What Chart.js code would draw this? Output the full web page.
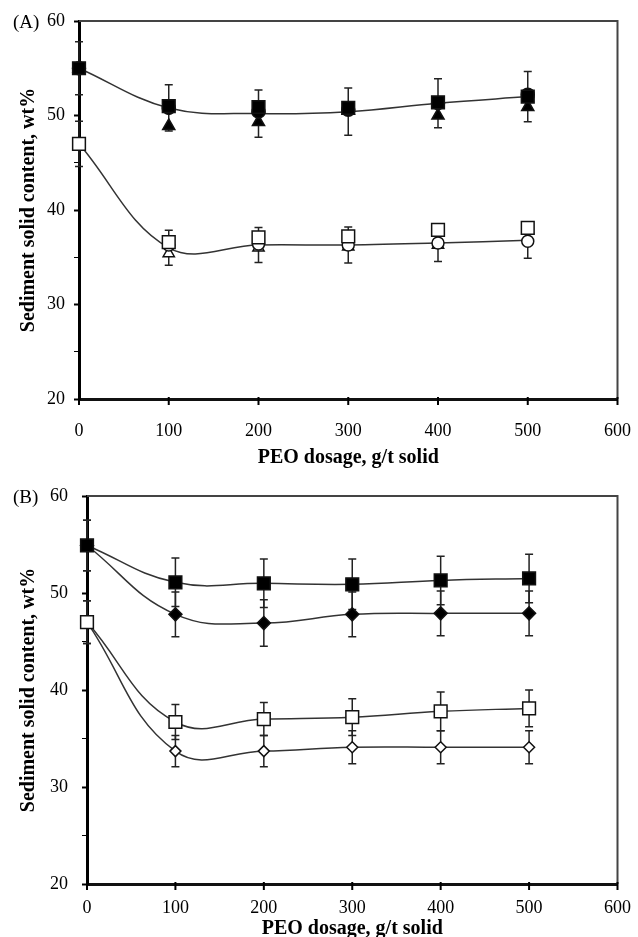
<!DOCTYPE html>
<html><head><meta charset="utf-8">
<script src="https://cdn.jsdelivr.net/npm/chart.js@4"></script>
<style>
html,body{margin:0;padding:0;background:#fff;width:638px;height:937px;overflow:hidden;position:relative}
#wa{position:absolute;left:0;top:0;width:638px;height:480px}
#wb{position:absolute;left:0;top:460px;width:638px;height:490px}
</style></head><body>
<div id="wa"><canvas id="ca"></canvas></div>
<div id="wb"><canvas id="cb"></canvas></div>
<script>
// ---- data ----
const dosage = [0, 100, 200, 300, 400, 500];
const xTitle = 'PEO dosage, g/t solid';
const yTitle = 'Sediment solid content, wt%';

// Panel A
const aFilledSquare   = [55.0, 51.0, 50.9, 50.8, 51.4, 52.0];
const aFilledCircle   = [55.0, 50.8, 50.4, 50.6, 51.3, 52.2];
const aFilledTriangle = [55.0, 48.9, 49.3, 50.5, 50.0, 50.9];
const aFilledMean     = [55.0, 50.8, 50.2, 50.4, 51.3, 52.0];
const aFilledErr      = [2.8, 2.45, 2.5, 2.5, 2.6, 2.65];
const aOpenSquare     = [47.0, 36.6, 37.1, 37.2, 37.9, 38.1];
const aOpenCircle     = [47.0, 36.3, 36.4, 36.3, 36.5, 36.7];
const aOpenTriangle   = [47.0, 35.4, 36.0, 36.1, 36.3, 37.9];
const aOpenMean       = [47.0, 36.0, 36.3, 36.3, 36.5, 36.8];
const aOpenErr        = [2.4, 1.85, 1.85, 1.9, 1.95, 1.9];

// Panel B
const bFilledSquare   = [54.9, 51.1, 51.0, 50.9, 51.3, 51.5];
const bFilledSquareErr= [2.6, 2.5, 2.5, 2.6, 2.5, 2.5];
const bFilledDiamond  = [54.9, 47.8, 46.9, 47.8, 47.9, 47.9];
const bFilledDiamondErr=[2.6, 2.3, 2.4, 2.3, 2.3, 2.3];
const bOpenSquare     = [47.0, 36.7, 37.0, 37.2, 37.8, 38.1];
const bOpenSquareErr  = [2.2, 1.8, 1.7, 1.9, 2.0, 1.9];
const bOpenDiamond    = [47.0, 33.7, 33.7, 34.1, 34.1, 34.1];
const bOpenDiamondErr = [2.2, 1.6, 1.6, 1.7, 1.7, 1.7];

const pts = arr => dosage.map((x, i) => ({x, y: arr[i]}));
const SERIF = "'Liberation Serif', 'Times New Roman', serif";

const errorBars = {
  id: 'errorBars',
  beforeDatasetsDraw(chart) {
    const {ctx, scales: {x, y}} = chart;
    chart.data.datasets.forEach(ds => {
      if (!ds.err) return;
      ctx.save();
      ctx.strokeStyle = '#222';
      ctx.lineWidth = 1.5;
      ds.data.forEach((p, j) => {
        const e = ds.err[j];
        const px = x.getPixelForValue(p.x);
        const t = y.getPixelForValue(p.y + e), b = y.getPixelForValue(p.y - e);
        ctx.beginPath();
        ctx.moveTo(px, t); ctx.lineTo(px, b);
        ctx.moveTo(px - 4, t); ctx.lineTo(px + 4, t);
        ctx.moveTo(px - 4, b); ctx.lineTo(px + 4, b);
        ctx.stroke();
      });
      ctx.restore();
    });
  }
};

const frame = {
  id: 'frame',
  afterDraw(chart, args, opts) {
    const {ctx, chartArea: a, scales: {x}} = chart;
    ctx.save();
    ctx.strokeStyle = '#444';
    ctx.lineWidth = 2;
    ctx.beginPath();
    ctx.moveTo(a.left, a.top); ctx.lineTo(a.right, a.top); ctx.lineTo(a.right, a.bottom);
    ctx.stroke();
    // x-axis tick marks
    ctx.strokeStyle = '#000';
    ctx.lineWidth = 2;
    ctx.beginPath();
    x.ticks.forEach(t => {
      const px = x.getPixelForValue(t.value);
      ctx.moveTo(px, a.bottom - 2); ctx.lineTo(px, a.bottom + 6);
    });
    ctx.stroke();
    ctx.fillStyle = '#000';
    ctx.font = '19px ' + SERIF;
    ctx.textBaseline = 'middle';
    ctx.textAlign = 'left';
    ctx.fillText(opts.label, 13, a.top + 2);
    ctx.restore();
  }
};

function makeOptions(cfg) {
  return {
    responsive: true,
    maintainAspectRatio: false,
    animation: false,
    layout: {padding: {left: 0, right: 20, top: cfg.top, bottom: 0}},
    plugins: {legend: {display: false}, tooltip: {enabled: false}, frame: {label: cfg.label}},
    scales: {
      x: {
        type: 'linear', min: 0, max: 600,
        ticks: {stepSize: 100, color: '#000', font: {family: SERIF, size: 18}, padding: 7, maxRotation: 0},
        grid: {drawOnChartArea: false, drawTicks: true, tickLength: cfg.xTickLen, tickColor: 'rgba(0,0,0,0)'},
        border: {display: true, color: '#111', width: 3},
        title: {display: true, text: xTitle, color: '#000', font: {family: SERIF, size: 20, weight: 'bold'}, padding: {top: 0, bottom: cfg.xTitlePad}},
        afterFit: s => { s.height = cfg.xHeight; }
      },
      y: {
        type: 'linear', min: 20, max: 60,
        ticks: {stepSize: 5, color: '#000', font: {family: SERIF, size: 18}, padding: cfg.yTickPad,
          callback: v => (v % 10 === 0 ? v : '')},
        grid: {drawOnChartArea: false, drawTicks: true, tickLength: 5, color: '#000',
          tickWidth: c => (c.tick && c.tick.value % 10 === 0 ? 2 : 1)},
        border: {display: true, color: '#000', width: 3},
        title: {display: true, text: yTitle, color: '#000', font: {family: SERIF, size: 20, weight: 'bold'}, padding: {top: 17, bottom: 0}},
        afterFit: s => { s.width = cfg.yWidth; }
      }
    }
  };
}

function marker(data, style, radius, filled, extra) {
  return Object.assign({
    data: pts(data), showLine: false, pointStyle: style, pointRadius: radius,
    backgroundColor: filled ? '#000' : '#fff', borderColor: '#111', pointBorderWidth: 1.5,
    clip: false
  }, extra || {});
}
function meanLine(data, err) {
  return {
    data: pts(data), err, showLine: true, pointRadius: 0, borderColor: '#333', borderWidth: 1.5,
    tension: 0.38, clip: false, fill: false
  };
}

new Chart(document.getElementById('ca'), {
  type: 'scatter',
  data: {datasets: [
    marker(aFilledSquare, 'rect', 9, true),
    marker(aFilledCircle, 'circle', 6.5, true),
    marker(aFilledTriangle, 'triangle', 7, true),
    marker(aOpenSquare, 'rect', 9, false),
    marker(aOpenCircle, 'circle', 6, false),
    marker(aOpenTriangle, 'triangle', 6.5, false),
    meanLine(aFilledMean, aFilledErr),
    meanLine(aOpenMean, aOpenErr)
  ]},
  options: makeOptions({label: '(A)', top: 21, xHeight: 81, xTickLen: 14, xTitlePad: 10, yTickPad: 9, yWidth: 79}),
  plugins: [errorBars, frame]
});

function seriesB(data, err, style, radius, filled) {
  return {
    data: pts(data), err, showLine: true, tension: 0.42, borderColor: '#333', borderWidth: 1.5,
    pointStyle: style, pointRadius: radius, backgroundColor: filled ? '#000' : '#fff',
    pointBackgroundColor: filled ? '#000' : '#fff', pointBorderColor: '#111', pointBorderWidth: 1.5,
    clip: false, fill: false
  };
}

new Chart(document.getElementById('cb'), {
  type: 'scatter',
  data: {datasets: [
    seriesB(bFilledSquare, bFilledSquareErr, 'rect', 9, true),
    seriesB(bFilledDiamond, bFilledDiamondErr, 'rectRot', 6.5, true),
    seriesB(bOpenSquare, bOpenSquareErr, 'rect', 9, false),
    seriesB(bOpenDiamond, bOpenDiamondErr, 'rectRot', 5.5, false)
  ]},
  options: makeOptions({label: '(B)', top: 36, xHeight: 66, xTickLen: 6, xTitlePad: 9, yTickPad: 14, yWidth: 87}),
  plugins: [errorBars, frame]
});
</script>
</body></html>
